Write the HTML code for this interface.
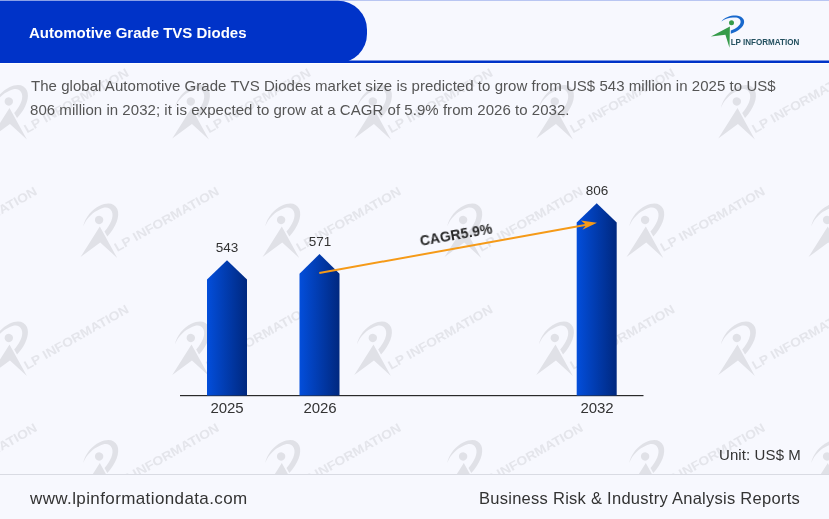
<!DOCTYPE html>
<html>
<head>
<meta charset="utf-8">
<style>
html,body{margin:0;padding:0;}
body{width:829px;height:519px;overflow:hidden;background:#f7f8fe;font-family:"Liberation Sans",sans-serif;position:relative;}
.abs{position:absolute;will-change:transform;}
#hdrbg{left:0;top:0;width:829px;height:64px;background:#f7f8fe;}
#ftrbg{left:0;top:474px;width:829px;height:45px;background:#f7f8fe;}
#title{left:28.6px;top:23.5px;color:#fff;font-weight:bold;font-size:15px;line-height:18px;white-space:nowrap;}
.para{left:30.5px;color:#555;font-size:15px;letter-spacing:0.043px;white-space:nowrap;line-height:20px;}
#p1{top:76px;}
#p2{top:99.6px;left:30px;}
.val{color:#333;font-size:13.5px;line-height:14px;width:60px;text-align:center;}
.yr{color:#333;font-size:15px;letter-spacing:-0.1px;line-height:16px;width:60px;text-align:center;}
#unit{right:28.5px;top:446.5px;color:#333;font-size:15px;letter-spacing:0.1px;line-height:16px;white-space:nowrap;}
#fline{left:0;top:474px;width:829px;height:1px;background:#d9dbe3;}
#url{left:30px;top:489.5px;color:#333;font-size:17px;letter-spacing:0.39px;line-height:18px;white-space:nowrap;}
#tag{right:28.5px;top:489.3px;color:#333;font-size:16.5px;letter-spacing:0.27px;line-height:18px;white-space:nowrap;}
</style>
</head>
<body>
<svg class="abs" id="wm" style="left:0;top:0" width="829" height="519" viewBox="0 0 829 519">
<defs>
<g id="lg">
<path transform="translate(-729.5,-47.8)" d="M721.3,21.5 C725,17.2 731,15.3 736,15.6 C741.2,16 744.6,18.6 744.1,22.6 C743.5,27.2 738,31.6 730.8,33.8 L730.8,30.4 C736,28.6 740.2,25.6 740.6,22.2 C740.9,19.2 738.6,17.5 735,17.5 C731,17.0 725.5,18.0 721.3,21.5 Z"/>
<circle cx="2" cy="-25" r="2.5"/>
<polygon points="-18.6,-11.4 0.4,-21.4 0,0 -4.1,-13.1"/>
</g>
<text id="lt" x="0" y="0" fill="#e4e5eb" font-family="Liberation Sans, sans-serif" font-weight="bold" font-size="12.4" textLength="118" lengthAdjust="spacingAndGlyphs">LP INFORMATION</text>
</defs>
<g fill="#e0e1e7">
<use href="#lg" transform="translate(26.9,139.5) rotate(-30) scale(1.68)"/>
<use href="#lt" transform="translate(27.0,133.5) rotate(-29.5)"/>
<use href="#lg" transform="translate(208.9,139.5) rotate(-30) scale(1.68)"/>
<use href="#lt" transform="translate(209.0,133.5) rotate(-29.5)"/>
<use href="#lg" transform="translate(390.9,139.5) rotate(-30) scale(1.68)"/>
<use href="#lt" transform="translate(391.0,133.5) rotate(-29.5)"/>
<use href="#lg" transform="translate(572.9,139.5) rotate(-30) scale(1.68)"/>
<use href="#lt" transform="translate(573.0,133.5) rotate(-29.5)"/>
<use href="#lg" transform="translate(754.9,139.5) rotate(-30) scale(1.68)"/>
<use href="#lt" transform="translate(755.0,133.5) rotate(-29.5)"/>
<use href="#lg" transform="translate(936.9,139.5) rotate(-30) scale(1.68)"/>
<use href="#lt" transform="translate(937.0,133.5) rotate(-29.5)"/>
<use href="#lg" transform="translate(-64.8,258.0) rotate(-30) scale(1.68)"/>
<use href="#lt" transform="translate(-64.7,252.0) rotate(-29.5)"/>
<use href="#lg" transform="translate(117.2,258.0) rotate(-30) scale(1.68)"/>
<use href="#lt" transform="translate(117.3,252.0) rotate(-29.5)"/>
<use href="#lg" transform="translate(299.2,258.0) rotate(-30) scale(1.68)"/>
<use href="#lt" transform="translate(299.3,252.0) rotate(-29.5)"/>
<use href="#lg" transform="translate(481.2,258.0) rotate(-30) scale(1.68)"/>
<use href="#lt" transform="translate(481.3,252.0) rotate(-29.5)"/>
<use href="#lg" transform="translate(663.2,258.0) rotate(-30) scale(1.68)"/>
<use href="#lt" transform="translate(663.3,252.0) rotate(-29.5)"/>
<use href="#lg" transform="translate(845.2,258.0) rotate(-30) scale(1.68)"/>
<use href="#lt" transform="translate(845.3,252.0) rotate(-29.5)"/>
<use href="#lg" transform="translate(26.9,376.0) rotate(-30) scale(1.68)"/>
<use href="#lt" transform="translate(27.0,370.0) rotate(-29.5)"/>
<use href="#lg" transform="translate(208.9,376.0) rotate(-30) scale(1.68)"/>
<use href="#lt" transform="translate(209.0,370.0) rotate(-29.5)"/>
<use href="#lg" transform="translate(390.9,376.0) rotate(-30) scale(1.68)"/>
<use href="#lt" transform="translate(391.0,370.0) rotate(-29.5)"/>
<use href="#lg" transform="translate(572.9,376.0) rotate(-30) scale(1.68)"/>
<use href="#lt" transform="translate(573.0,370.0) rotate(-29.5)"/>
<use href="#lg" transform="translate(754.9,376.0) rotate(-30) scale(1.68)"/>
<use href="#lt" transform="translate(755.0,370.0) rotate(-29.5)"/>
<use href="#lg" transform="translate(936.9,376.0) rotate(-30) scale(1.68)"/>
<use href="#lt" transform="translate(937.0,370.0) rotate(-29.5)"/>
<use href="#lg" transform="translate(-64.8,494.5) rotate(-30) scale(1.68)"/>
<use href="#lt" transform="translate(-64.7,488.5) rotate(-29.5)"/>
<use href="#lg" transform="translate(117.2,494.5) rotate(-30) scale(1.68)"/>
<use href="#lt" transform="translate(117.3,488.5) rotate(-29.5)"/>
<use href="#lg" transform="translate(299.2,494.5) rotate(-30) scale(1.68)"/>
<use href="#lt" transform="translate(299.3,488.5) rotate(-29.5)"/>
<use href="#lg" transform="translate(481.2,494.5) rotate(-30) scale(1.68)"/>
<use href="#lt" transform="translate(481.3,488.5) rotate(-29.5)"/>
<use href="#lg" transform="translate(663.2,494.5) rotate(-30) scale(1.68)"/>
<use href="#lt" transform="translate(663.3,488.5) rotate(-29.5)"/>
<use href="#lg" transform="translate(845.2,494.5) rotate(-30) scale(1.68)"/>
<use href="#lt" transform="translate(845.3,488.5) rotate(-29.5)"/>
</g>
</svg>
<div class="abs" id="hdrbg"></div>
<div class="abs" id="ftrbg"></div>
<svg class="abs" id="hdr" style="left:0;top:0" width="829" height="66" viewBox="0 0 829 66">
<rect x="0" y="0" width="829" height="1" fill="#b9c6f2"/>
<rect x="0" y="63" width="829" height="1" fill="#ffffff"/>
<rect x="0" y="60.5" width="829" height="2.5" fill="#0033c8"/>
<path d="M0,0.7 H338 A29,29 0 0 1 367,29.7 V34 A29,29 0 0 1 338,63 H0 Z" fill="#0033c8"/>
</svg>

<svg class="abs" id="logo" style="left:0;top:0" width="829" height="60" viewBox="0 0 829 60">
<path d="M721.3,21.5 C725,17.2 731,15.3 736,15.6 C741.2,16 744.6,18.6 744.1,22.6 C743.5,27.2 738,31.6 730.8,33.8 L730.8,30.4 C736,28.6 740.2,25.6 740.6,22.2 C740.9,19.2 738.6,17.5 735,17.5 C731,17.0 725.5,18.0 721.3,21.5 Z" fill="#1868cc"/>
<circle cx="731.5" cy="22.8" r="2.5" fill="#369b4a"/>
<polygon points="710.9,36.4 729.9,26.4 729.5,47.8 725.4,34.7" fill="#369b4a"/>
<text x="730.7" y="44.9" font-family="Liberation Sans, sans-serif" font-weight="bold" font-size="8.3" fill="#23505f" textLength="68.6" lengthAdjust="spacingAndGlyphs">LP INFORMATION</text>
</svg>
<div class="abs" id="title">Automotive Grade TVS Diodes</div>
<div class="abs para" id="p1">The global Automotive Grade TVS Diodes market size is predicted to grow from US$ 543 million in 2025 to US$</div>
<div class="abs para" id="p2">806 million in 2032; it is expected to grow at a CAGR of 5.9% from 2026 to 2032.</div>

<svg class="abs" id="chart" style="left:0;top:0" width="829" height="519" viewBox="0 0 829 519">
<defs>
<linearGradient id="bg" x1="0" y1="0" x2="1" y2="0">
<stop offset="0" stop-color="#034edb"/>
<stop offset="1" stop-color="#00287f"/>
</linearGradient>
</defs>
<rect x="180" y="395" width="463.5" height="1.2" fill="#2a2a2a"/>
<polygon points="207,395.5 207,279.5 227,260.2 247,279.5 247,395.5" fill="url(#bg)"/>
<polygon points="299.5,395.5 299.5,273.7 319.5,254 339.5,273.7 339.5,395.5" fill="url(#bg)"/>
<polygon points="576.7,395.5 576.7,222.5 596.7,203.3 616.7,222.5 616.7,395.5" fill="url(#bg)"/>
<line x1="319.3" y1="273" x2="588" y2="224.6" stroke="#f59a18" stroke-width="2"/>
<polygon points="597,222.7 580.9,220.6 586.3,225 582.4,229.8" fill="#f59a18"/>
</svg>
<div class="abs val" style="left:197px;top:240.5px;">543</div>
<div class="abs val" style="left:289.5px;top:234.5px;">571</div>
<div class="abs val" style="left:566.7px;top:183.5px;">806</div>
<div class="abs yr" style="left:196.5px;top:400px;">2025</div>
<div class="abs yr" style="left:289.6px;top:400px;">2026</div>
<div class="abs yr" style="left:567px;top:400px;">2032</div>
<div class="abs" id="cagr" style="left:419.5px;top:233px;color:#262626;font-weight:bold;font-size:14px;line-height:16px;transform:rotate(-10deg);transform-origin:0 50%;white-space:nowrap;">CAGR5.9%</div>
<div class="abs" id="unit">Unit: US$ M</div>
<div class="abs" id="fline"></div>
<div class="abs" id="url">www.lpinformationdata.com</div>
<div class="abs" id="tag">Business Risk &amp; Industry Analysis Reports</div>
</body>
</html>
